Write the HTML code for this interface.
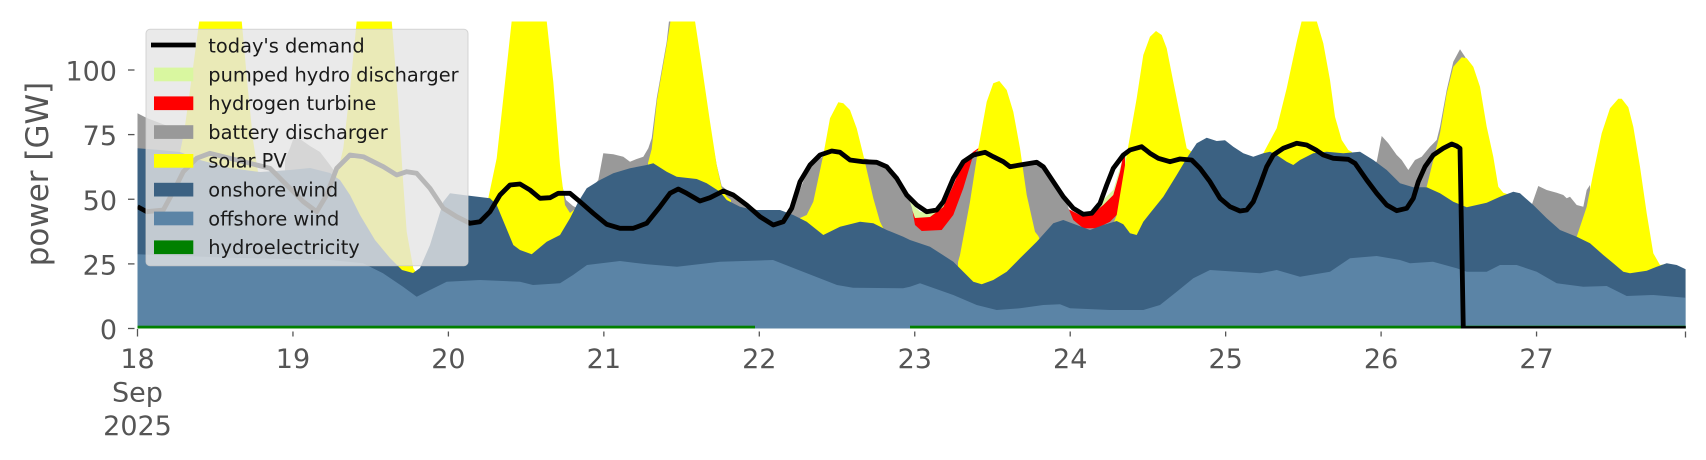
<!DOCTYPE html>
<html>
<head>
<meta charset="utf-8">
<style>
html,body{margin:0;padding:0;background:#ffffff;}
svg{display:block;}
</style>
</head>
<body>
<svg width="1706" height="460" viewBox="0 0 1706 460" xmlns="http://www.w3.org/2000/svg">
<defs>
<clipPath id="c"><rect x="137.5" y="21.5" width="1548.2" height="307"/></clipPath>
</defs>
<rect x="0" y="0" width="1706" height="460" fill="#ffffff"/>
<g clip-path="url(#c)">
<!-- pumped hydro discharger -->
<polygon fill="#d9f7a0" points="906,328.5 906,196 912,204 920,211.7 930,213.3 940,208.3 946,200 946,328.5"/>
<polygon fill="#d9f7a0" points="1098,328.5 1098,206 1106,197 1113.3,190 1120,168 1124,153 1126,150 1126,328.5"/>
<!-- hydrogen turbine -->
<polygon fill="#ff0000" points="909,328.5 909,201 915,218 930,217 943.3,207 953.3,185 963.3,161.7 973.3,151.7 978.3,148.3 981,147 981,328.5"/>
<polygon fill="#ff0000" points="1064,328.5 1064,206 1066.7,208.3 1080,215 1091.7,214.3 1103.3,205 1113.3,195 1120,171.7 1123.3,155 1125,151 1125,328.5"/>
<!-- battery discharger -->
<g fill="#999999">
<polygon points="137.5,328.5 137.5,113.3 146.7,118 165,125 183.3,133.3 186,140 186,328.5"/>
<polygon points="285,328.5 285,160 290,148 294,137 300,139 310,146 320,152 330,165 335,172 335,328.5"/>
<polygon points="562,328.5 562,185 566,200 573,206 577,208 577,328.5"/>
<polygon points="588,328.5 588,192 598.3,180 603.3,153.3 613.3,154.3 623.3,156.7 630,161.7 636.7,159 643.3,156.7 648.3,148.3 651.7,138.3 656.7,98.3 666.7,41.7 669,21 672,21 672,328.5"/>
<polygon points="714,328.5 714,150 716.7,165 721.7,186 733.3,195 746.7,203 755,209 760,212 760,328.5"/>
<polygon points="788,328.5 788,214 796,200 803,182 811,166 820,158 830,154 838,153 838,328.5"/>
<polygon points="855,328.5 855,162 863.3,158.3 880,161.7 886.7,168.3 896.7,181.7 906.7,196.7 910,202 912,208 915,225 921.7,231 941.7,230 953.3,215 963.3,188.3 973.3,155 977,150 980,150 980,328.5"/>
<polygon points="1008,328.5 1008,166 1010,166.7 1020,163.3 1036.7,161.7 1043.3,166.7 1053.3,181.7 1063.3,196.7 1067,204 1070,212 1073.3,220 1083.3,228.3 1096.7,228.3 1110,221.7 1116.7,215 1120,212 1120,328.5"/>
<polygon points="1375,328.5 1375,162 1376.7,161.7 1381.7,136 1388.3,143.3 1396.7,155 1401.7,160 1408.3,170 1415,160 1421.7,156.7 1430,146.7 1436.7,140 1440,126.7 1446.7,90 1453.3,61.7 1460,49.3 1465,56.7 1468,62 1468,328.5"/>
<polygon points="1530,328.5 1530,206 1531.7,205 1538.3,186 1546.7,190 1556.7,192.7 1563.3,195 1566.7,198.3 1570,196.7 1576.7,205 1583.3,206.7 1586.7,190 1590,185 1590,328.5"/>
</g>
<!-- solar PV -->
<g fill="#ffff00">
<polygon points="178,328.5 178,153 180,152 184,133 190,90 199.3,21 241.7,21 248,90 253,140 258,172 260,175 260,328.5"/>
<polygon points="332,328.5 332,178 337,175 343.3,148.3 350,90 356.7,21 391.7,21 398,100 403,180 406.7,231.7 413.3,268.3 416.7,273.3 417,328.5"/>
<polygon points="486,328.5 486,199 488.3,198.3 496.7,158.3 503.3,98.3 511.7,21 546.7,21 553.3,81.7 560,165 565,205 570,213 575,209 575,328.5"/>
<polygon points="648,328.5 648,163 651.7,149 657,100 667,43 670.5,21 695,21 701.7,65 710,121.7 716.7,165 721.7,188.3 726.7,196.7 731,200 731,328.5"/>
<polygon points="800,328.5 800,218 806.7,215 813.3,201.7 823.3,155 830,118.3 838.3,102.3 843.3,103.3 850,110 856.7,128.3 863.3,155 873.3,198.3 880,221.7 883.3,228.3 887,231 887,328.5"/>
<polygon points="958,328.5 958,262 960,255 970,201.7 978.3,148.3 986.7,101.7 993.3,83.3 999.3,81 1006.7,90 1013.3,111.7 1020,148.3 1026.7,195 1035,231.7 1038.3,236 1040,240 1040,328.5"/>
<polygon points="1114,328.5 1114,222 1116.7,215 1126.7,155 1136.7,98.3 1143.3,55 1150,36.7 1156,31 1161.7,35 1166.7,48.3 1173.3,81.7 1180,115 1186.7,148.3 1191.7,151.7 1193,153 1193,328.5"/>
<polygon points="1261,328.5 1261,155 1263.3,153.3 1276.7,128.3 1286.7,88.3 1296.7,41.7 1301.7,21 1316.7,21 1323.3,43.3 1330,80 1335,116.7 1341.7,140 1348.3,150 1352,152 1352,328.5"/>
<polygon points="1424,328.5 1424,188 1426.7,186.7 1433.3,160 1440,133.3 1446.7,93.3 1453.3,66.7 1461.7,57.3 1466.7,58.3 1473.3,66.7 1480,86.7 1486.7,126.7 1493.3,156.7 1498.3,186.7 1503.3,192.7 1507,194 1507,328.5"/>
<polygon points="1575,328.5 1575,237 1576.7,236.7 1586.7,206.7 1593.3,173.3 1601.7,133.3 1610,108.3 1618.3,98.7 1621.7,98.7 1628.3,107.3 1633.3,126.7 1640,166.7 1646.7,213.3 1653.3,253.3 1660,265 1666.7,264 1666.7,328.5"/>
</g>
<!-- onshore wind -->
<polygon fill="#3b6182" points="137.5,148.3 160,150 180,152 200,160 230,168 260,172 290,170 310,168 330,173 340,180 350,195 360,215 375,240 390,258 402,270 413,273 420,268 430,245 443.3,201.7 450,193.3 463.3,195 490,198.3 496.7,205 505,225 513.3,245 520,250 531.7,254.3 546.7,241.7 560,235 570,218.3 578.3,201.7 586.7,188.3 600,180 613.3,173.3 630,168.3 646.7,165 653.3,163.3 666.7,171.7 676.7,176.7 696.7,179 706.7,183.3 720,191.7 726.7,200 740,206.7 753.3,210 780,210 793.3,215 806.7,221.7 823.3,235 840,226.7 860,221.7 873.3,223.3 886.7,230 903.3,236.7 910,240 930,246.7 953.3,261.7 963.3,271.7 973.3,281.7 981.7,284.3 993.3,280 1006.7,271.7 1020,258.3 1036.7,241.7 1053.3,223.3 1063.3,220 1076.7,225 1090,230 1103.3,225 1116.7,221 1123.3,224.3 1130,233.3 1136.7,235 1143.3,221.7 1150,213.3 1163.3,196.7 1176.7,175 1186.7,158.3 1196.7,143.3 1206.7,137.7 1216.7,141 1225,140.3 1233.3,146.7 1243.3,153.3 1253.3,156.7 1263.3,153.3 1270,151.7 1276.7,155 1286.7,161.7 1293.3,165 1300,160 1313.3,153.3 1326.7,151.7 1343.3,153.3 1360,151.7 1373.3,160 1386.7,170 1400,183.3 1413.3,187.3 1426.7,187.3 1440,193.3 1453.3,201.7 1466.7,207.3 1486.7,202.7 1500,196.7 1513.3,191.7 1520,193.3 1533.3,205 1546.7,218.3 1560,230 1576.7,236.7 1590,243.3 1603.3,255 1613.3,263.3 1623.3,271.7 1630,273.3 1646.7,270.7 1656.7,266.7 1666.7,263.3 1676.7,265 1685.7,269.3 1685.7,328.5 137.5,328.5"/>
<!-- offshore wind -->
<polygon fill="#5b84a6" points="137.5,254.3 230,257.7 330,260 363,263.3 383,273.3 403,286.7 416.7,296.7 430,290 446.7,281.7 480,280 520,281.7 533,285 560,283.3 573,275 587,265 620,261 647,264.3 677,266.7 720,261.7 773,260 803,271.7 837,285 853,287.7 903,288.3 910,286.7 920,283.3 953.3,295 976.7,305 996.7,310 1020,308.3 1043.3,305 1060,304.3 1070,308.3 1110,310 1143.3,310 1160,305 1176.7,291.7 1193.3,278.3 1210,270 1236.7,271.7 1260,273.3 1276.7,270 1300,276.7 1330,271.7 1350,258.3 1376.7,256 1400,260 1410,263.3 1433,261.7 1456.7,268.3 1466.7,271.7 1486.7,271.7 1500,265 1516.7,265 1536.7,271.7 1556.7,283.3 1583.3,286.7 1606.7,286 1626.7,296 1653.3,295 1685.7,297.7 1685.7,328.5 137.5,328.5"/>
<!-- hydroelectricity -->
<rect x="137.5" y="325.7" width="617.5" height="3" fill="#008000"/>
<rect x="910" y="325.7" width="776" height="3" fill="#008000"/>
<!-- today's demand -->
<polyline fill="none" stroke="#000000" stroke-width="4.8" stroke-linejoin="round" stroke-linecap="butt" points="137.5,206.7 146.7,211.7 163.3,210 173.3,191.7 183.3,171.7 196.7,158.3 210,153.3 230,158.3 256.7,165 270,168.3 276.7,175 290,188.3 303.3,201.7 316.7,211.7 326.7,195 336.7,168.3 350,155 363.3,156.7 383.3,166.7 396.7,175 406.7,171.7 416.7,173.3 430,188.3 443.3,208.3 456.7,216.7 470,223.3 480,221.7 490,211.7 500,195 510,185 520,184 530,190 540,198.3 550,197.7 558.3,193.3 570,193.3 580,201.7 593.3,213.3 606.7,224.3 620,228.3 633.3,228.3 646.7,223.3 660,206.7 670,193.3 678.3,189 686.7,193.3 700,201 710,197.7 723.3,191 733.3,195 746.7,205 760,216.7 773.3,225 783.3,221.7 791.7,208.3 800,181.7 810,165 820,155 831.7,151 840,152.3 850,160 863.3,161.7 876.7,162.3 886.7,166.7 896.7,178.3 906.7,195 916.7,205 926.7,211.7 936.7,210 943.3,201.7 953.3,178.3 963.3,161.7 973.3,155 985,152.3 993.3,156.7 1003.3,161.7 1010,166.7 1020,165 1036.7,162.3 1043.3,166.7 1053.3,181.7 1063.3,196.7 1073.3,208.3 1083.3,214.3 1091.7,213.3 1100,203.3 1106.7,185 1113.3,168.3 1123.3,155 1130,150 1141.7,146.7 1150,153.3 1158.3,158.3 1170,161.7 1180,159 1191.7,160 1200,168.3 1210,181.7 1220,198.3 1230,206.7 1240,211 1246.7,210 1253.3,201.7 1260,185 1266.7,166.7 1273.3,155 1283.3,148.3 1296.7,143.3 1306.7,145 1316,150 1323.3,155 1333.3,158.3 1348.3,159.3 1355,163.3 1366.7,180 1376.7,193.3 1386.7,205 1396.7,210.7 1406.7,208.3 1413.3,198.3 1418.3,181.7 1425,166.7 1433.3,155 1443.3,148.3 1451.7,144 1456.7,146 1460,148.3 1463.3,328.5 1690,328.5"/>
</g>

<!-- y ticks -->
<g stroke="#555555" stroke-width="1.3">
<line x1="128" y1="328.5" x2="134.5" y2="328.5"/>
<line x1="128" y1="263.9" x2="134.5" y2="263.9"/>
<line x1="128" y1="199.25" x2="134.5" y2="199.25"/>
<line x1="128" y1="134.6" x2="134.5" y2="134.6"/>
<line x1="128" y1="70" x2="134.5" y2="70"/>
</g>
<g font-family="DejaVu Sans, Liberation Sans, sans-serif" font-size="27" fill="#555555" text-anchor="end">
<text x="117" y="339">0</text>
<text x="117" y="274.4">25</text>
<text x="117" y="209.75">50</text>
<text x="117" y="145.1">75</text>
<text x="117" y="80.5">100</text>
</g>
<!-- x ticks -->
<g stroke="#555555" stroke-width="1.3">
<line x1="137.5" y1="329" x2="137.5" y2="336.5"/>
<line x1="292.95" y1="331.5" x2="292.95" y2="336.5"/>
<line x1="448.4" y1="331.5" x2="448.4" y2="336.5"/>
<line x1="603.85" y1="331.5" x2="603.85" y2="336.5"/>
<line x1="759.3" y1="331.5" x2="759.3" y2="336.5"/>
<line x1="914.75" y1="331.5" x2="914.75" y2="336.5"/>
<line x1="1070.2" y1="331.5" x2="1070.2" y2="336.5"/>
<line x1="1225.65" y1="331.5" x2="1225.65" y2="336.5"/>
<line x1="1381.1" y1="331.5" x2="1381.1" y2="336.5"/>
<line x1="1536.55" y1="331.5" x2="1536.55" y2="336.5"/>
<line x1="1685.5" y1="331.5" x2="1685.5" y2="337.5"/>
</g>
<g font-family="DejaVu Sans, Liberation Sans, sans-serif" font-size="27" fill="#555555" text-anchor="middle">
<text x="137.5" y="368">18</text>
<text x="137.5" y="401.5">Sep</text>
<text x="137.5" y="435">2025</text>
<text x="292.95" y="368">19</text>
<text x="448.4" y="368">20</text>
<text x="603.85" y="368">21</text>
<text x="759.3" y="368">22</text>
<text x="914.75" y="368">23</text>
<text x="1070.2" y="368">24</text>
<text x="1225.65" y="368">25</text>
<text x="1381.1" y="368">26</text>
<text x="1536.55" y="368">27</text>
</g>
<!-- y label -->
<text transform="translate(48,174) rotate(-90)" x="0" y="0" text-anchor="middle" font-family="DejaVu Sans, Liberation Sans, sans-serif" font-size="31" fill="#555555">power [GW]</text>

<!-- legend -->
<rect x="146" y="29.3" width="322" height="236.4" rx="4" ry="4" fill="rgba(229,229,229,0.8)" stroke="rgba(204,204,204,0.8)" stroke-width="1"/>
<line x1="151" y1="45" x2="195.7" y2="45" stroke="#000000" stroke-width="4.8"/>
<rect x="154" y="67.6" width="39.3" height="13.7" fill="#d9f7a0"/>
<rect x="154" y="96.4" width="39.3" height="13.7" fill="#ff0000"/>
<rect x="154" y="125.2" width="39.3" height="13.7" fill="#999999"/>
<rect x="154" y="154" width="39.3" height="13.7" fill="#ffff00"/>
<rect x="154" y="182.8" width="39.3" height="13.7" fill="#3b6182"/>
<rect x="154" y="211.6" width="39.3" height="13.7" fill="#5b84a6"/>
<rect x="154" y="240.4" width="39.3" height="13.7" fill="#008000"/>
<g font-family="DejaVu Sans, Liberation Sans, sans-serif" font-size="19.4" fill="#1a1a1a">
<text x="208.3" y="52.5">today's demand</text>
<text x="208.3" y="81.3">pumped hydro discharger</text>
<text x="208.3" y="110.1">hydrogen turbine</text>
<text x="208.3" y="138.9">battery discharger</text>
<text x="208.3" y="167.7">solar PV</text>
<text x="208.3" y="196.5">onshore wind</text>
<text x="208.3" y="225.3">offshore wind</text>
<text x="208.3" y="254.1">hydroelectricity</text>
</g>
</svg>
</body>
</html>
